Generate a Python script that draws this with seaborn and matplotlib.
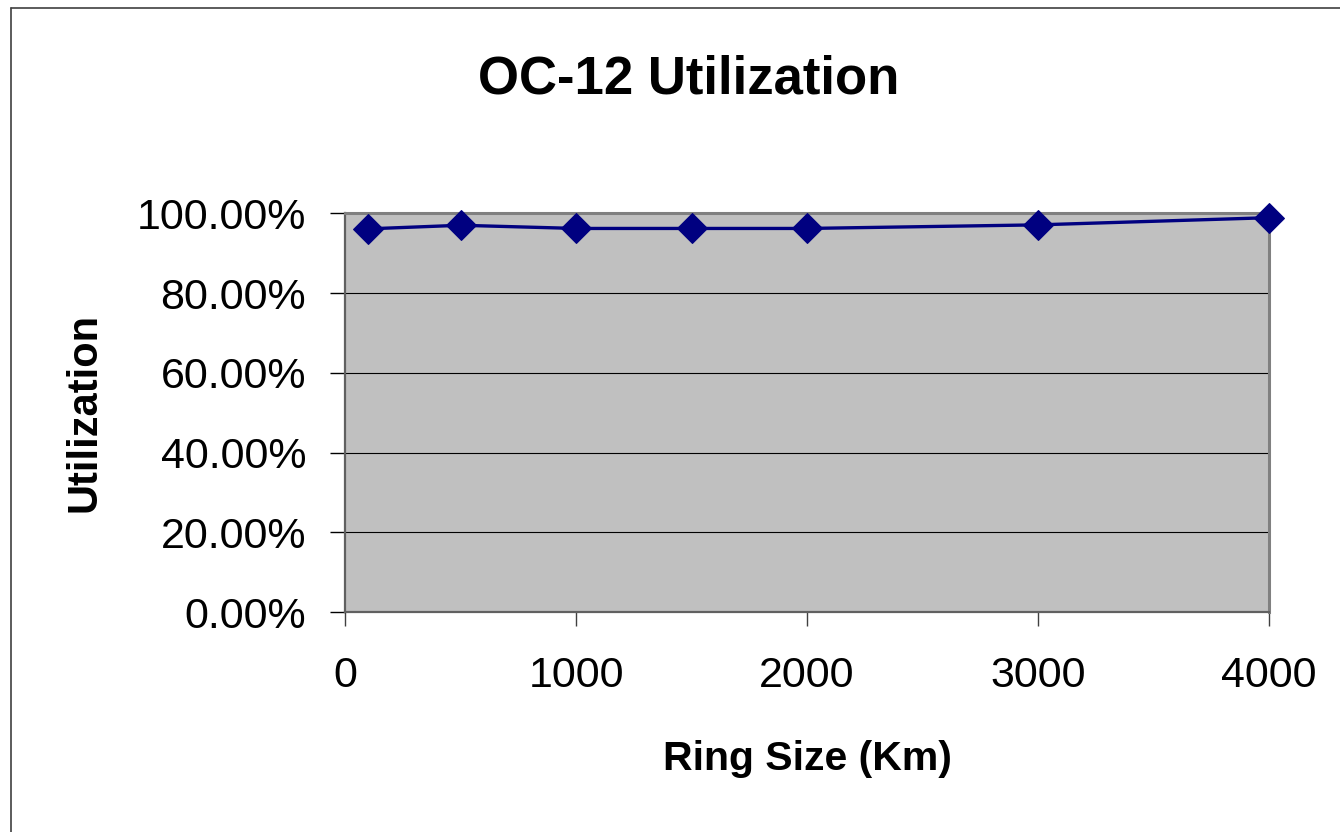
import matplotlib
matplotlib.use("Agg")
import matplotlib.pyplot as plt
from matplotlib.lines import Line2D
from matplotlib.ticker import PercentFormatter
import seaborn as sns
import pandas as pd

# ---- data ----
ring_size_km = [100, 500, 1000, 1500, 2000, 3000, 4000]
utilization = [0.961, 0.970, 0.962, 0.962, 0.962, 0.971, 0.989]
x_ticks = [0, 1000, 2000, 3000, 4000]
y_ticks = [0.0, 0.2, 0.4, 0.6, 0.8, 1.0]
title_text = "OC-12 Utilization"
x_label = "Ring Size (Km)"
y_label = "Utilization"

df = pd.DataFrame({"Ring Size (Km)": ring_size_km, "Utilization": utilization})

sns.set_theme(style="white")
plt.rcParams["font.family"] = ["Liberation Sans", "DejaVu Sans"]

W, H = 1340, 832
fig = plt.figure(figsize=(W / 100, H / 100), dpi=100)
fig.patch.set_facecolor("white")

L, R, T, B = 345, 1269, 213.3, 612
ax = fig.add_axes([L / W, 1 - B / H, (R - L) / W, (B - T) / H])
ax.set_facecolor("#C0C0C0")

sns.lineplot(data=df, x="Ring Size (Km)", y="Utilization", ax=ax,
             color="#000080", linewidth=2.4, marker="D", markersize=15,
             markeredgecolor="#000080", markerfacecolor="#000080",
             clip_on=False, zorder=5)

ax.set_xlim(0, 4000)
ax.set_ylim(0, 1.0)
ax.set_xticks(x_ticks)
ax.set_yticks(y_ticks)
ax.yaxis.set_major_formatter(PercentFormatter(xmax=1, decimals=2))

ax.grid(False)
for yv in y_ticks[1:-1]:
    ax.axhline(yv, color="black", linewidth=0.8, zorder=1)

for side in ["top", "right"]:
    ax.spines[side].set_color("#808080")
    ax.spines[side].set_linewidth(2.2)
for side in ["left", "bottom"]:
    ax.spines[side].set_color("#606060")
    ax.spines[side].set_linewidth(1.6)

ax.tick_params(axis="y", which="major", direction="out", length=11, width=1,
               color="black", labelsize=31, pad=17, left=True)
ax.tick_params(axis="x", which="major", direction="out", length=10, width=1,
               color="#404040", labelsize=31, pad=22, bottom=True)
for lbl in ax.get_xticklabels() + ax.get_yticklabels():
    lbl.set_color("black")

ax.set_xlabel(x_label, fontsize=29.5, fontweight="bold", color="black", va="baseline")
ax.xaxis.set_label_coords(0.5, (B - 770) / (B - T))
ax.set_ylabel(y_label, fontsize=30, fontweight="bold", color="black", va="center")
ax.yaxis.set_label_coords((84 - L) / (R - L), 0.5)

fig.text(689 / W, 1 - 94 / H, title_text, fontsize=38, fontweight="bold",
         ha="center", va="baseline", color="black")

# chart-area border (left and top edges visible)
fig.add_artist(Line2D([10.5 / W, 10.5 / W], [0, 1 - 7.5 / H], color="#404040", linewidth=1.2))
fig.add_artist(Line2D([10.5 / W, 1], [1 - 7.5 / H, 1 - 7.5 / H], color="#404040", linewidth=1.2))

fig.savefig("out.png", dpi=100)
